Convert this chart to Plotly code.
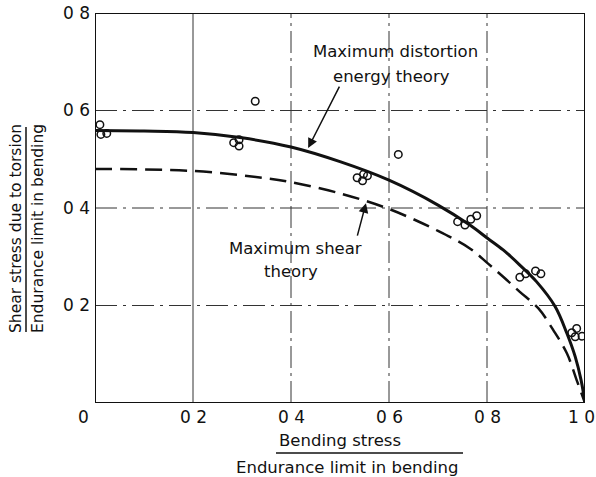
import plotly.graph_objects as go

# Theory curves (normalised stresses)
distortion_x = [0.0, 0.1, 0.2, 0.3, 0.4, 0.5, 0.6, 0.7, 0.765, 0.801, 0.833, 0.867,
                0.901, 0.939, 0.963, 0.980, 0.992, 1.0]
distortion_y = [0.559, 0.558, 0.555, 0.544, 0.525, 0.495, 0.457, 0.406, 0.365, 0.338, 0.314, 0.283,
                0.249, 0.198, 0.143, 0.095, 0.047, 0.0]

shear_x = [0.0, 0.2, 0.35, 0.4, 0.5, 0.6, 0.7, 0.765, 0.801, 0.833, 0.867, 0.905,
           0.935, 0.963, 0.983, 1.0]
shear_y = [0.480, 0.476, 0.461, 0.453, 0.430, 0.398, 0.353, 0.317, 0.287, 0.259, 0.228, 0.194,
           0.150, 0.102, 0.047, 0.0]

# Test results
test_x = [0.010, 0.012, 0.024,
          0.283, 0.294, 0.294,
          0.327,
          0.535, 0.548, 0.556, 0.546,
          0.619,
          0.740, 0.755, 0.767, 0.779,
          0.867, 0.879, 0.899, 0.910,
          0.973, 0.983, 0.980, 0.994]
test_y = [0.571, 0.551, 0.553,
          0.534, 0.540, 0.527,
          0.619,
          0.462, 0.469, 0.466, 0.456,
          0.510,
          0.372, 0.365, 0.377, 0.384,
          0.258, 0.265, 0.271, 0.265,
          0.144, 0.153, 0.136, 0.137]

x_ticks = [0.0, 0.2, 0.4, 0.6, 0.8, 1.0]
x_tick_labels = ["0", "0\u00a02", "0\u00a04", "0\u00a06", "0\u00a08", "1\u00a00"]
y_ticks = [0.2, 0.4, 0.6, 0.8]
y_tick_labels = ["0 2", "0 4", "0 6", "0 8"]

FONT = "DejaVu Sans"
INK = "#111111"

fig = go.Figure()

fig.add_trace(go.Scatter(
    x=distortion_x, y=distortion_y, mode="lines",
    line=dict(color=INK, width=3, shape="spline", smoothing=1.0),
    hoverinfo="skip", showlegend=False))
fig.add_trace(go.Scatter(
    x=shear_x, y=shear_y, mode="lines",
    line=dict(color=INK, width=2.5, dash="17px,8px", shape="spline", smoothing=1.0),
    hoverinfo="skip", showlegend=False))
fig.add_trace(go.Scatter(
    x=test_x, y=test_y, mode="markers",
    marker=dict(symbol="circle-open", size=7.5, color=INK, line=dict(width=1.5, color=INK)),
    hoverinfo="skip", showlegend=False))

# grid: dash-dot lines
shapes = []
for gx in [0.2, 0.4, 0.6, 0.8]:
    shapes.append(dict(type="line", xref="x", yref="y", x0=gx, x1=gx, y0=0, y1=0.8,
                       line=dict(color="#333", width=1,
                                 dash="solid" if gx == 0.2 else "22px,5px,3px,5px"),
                       layer="below"))
for gy in [0.2, 0.4, 0.6]:
    shapes.append(dict(type="line", xref="x", yref="y", x0=0, x1=1.0, y0=gy, y1=gy,
                       line=dict(color="#333", width=1, dash="22px,6px,3px,6px"),
                       layer="below"))
# frame
shapes.append(dict(type="rect", xref="x", yref="y", x0=0, x1=1.0, y0=0, y1=0.8,
                   line=dict(color=INK, width=2)))

# fraction bars of the axis titles (paper coords, plot area 95..585 x 13..403 px)
def px(x):
    return (x - 95) / 490.0

def py(y):
    return (403 - y) / 390.0

shapes.append(dict(type="line", xref="paper", yref="paper",
                   x0=px(276), x1=px(463), y0=py(453), y1=py(453),
                   line=dict(color=INK, width=1.5)))
shapes.append(dict(type="line", xref="paper", yref="paper",
                   x0=px(26), x1=px(26), y0=py(127), y1=py(332),
                   line=dict(color=INK, width=1.5)))

ann = []

# bending-stress tick labels on the x scale, just under the frame
for tv, tt in zip(x_ticks, x_tick_labels):
    shift = {0.0: -12, 1.0: -4}.get(tv, 0)
    ann.append(dict(text=tt, xref="x", yref="y", x=tv, y=0, yshift=-14,
                    xanchor="center", yanchor="middle", showarrow=False, xshift=shift,
                    font=dict(family=FONT, size=17, color=INK)))


def label(text, x, y, angle=0, size=16):
    return dict(text=text, xref="paper", yref="paper", x=px(x), y=py(y),
                xanchor="center", yanchor="middle", showarrow=False, textangle=angle,
                font=dict(family=FONT, size=size, color=INK))


ann.append(label("Bending stress", 340, 440, size=16.5))
ann.append(label("Endurance limit in bending", 347, 467, size=16.5))
ann.append(label("Shear stress due to torsion", 16, 229, angle=-90, size=15.5))
ann.append(label("Endurance limit in bending", 38, 229, angle=-90, size=15.5))

# curve labels
ann.append(label("Maximum distortion", 395, 52, size=16.5))
ann.append(label("energy theory", 391, 76, size=16.5))
ann.append(label("Maximum shear", 295, 248, size=16.5))
ann.append(label("theory", 291, 271, size=16.5))

# arrows
ann.append(dict(text="", x=0.435, y=0.523, xref="x", yref="y",
                ax=32, ay=-63, showarrow=True, arrowhead=2, arrowsize=1.3,
                arrowwidth=1.5, arrowcolor=INK))
ann.append(dict(text="", x=0.553, y=0.410, xref="x", yref="y",
                ax=-9, ay=34, showarrow=True, arrowhead=2, arrowsize=1.3,
                arrowwidth=1.5, arrowcolor=INK))

fig.update_layout(
    width=596, height=477,
    margin=dict(l=95, r=11, t=13, b=74),
    paper_bgcolor="white", plot_bgcolor="white",
    shapes=shapes, annotations=ann, hovermode=False,
    font=dict(family=FONT, color=INK),
    xaxis=dict(range=[0, 1.0], showticklabels=False,
               showgrid=False, zeroline=False, showline=False, ticks="",
               automargin=False, fixedrange=True),
    yaxis=dict(range=[0, 0.8], tickmode="array", tickvals=y_ticks, ticktext=y_tick_labels,
               showgrid=False, zeroline=False, showline=False, ticks="",
               tickfont=dict(family=FONT, size=17, color=INK), ticklabelstandoff=4,
               automargin=False, fixedrange=True),
)

fig.write_html("out.html", config={"displayModeBar": False})
